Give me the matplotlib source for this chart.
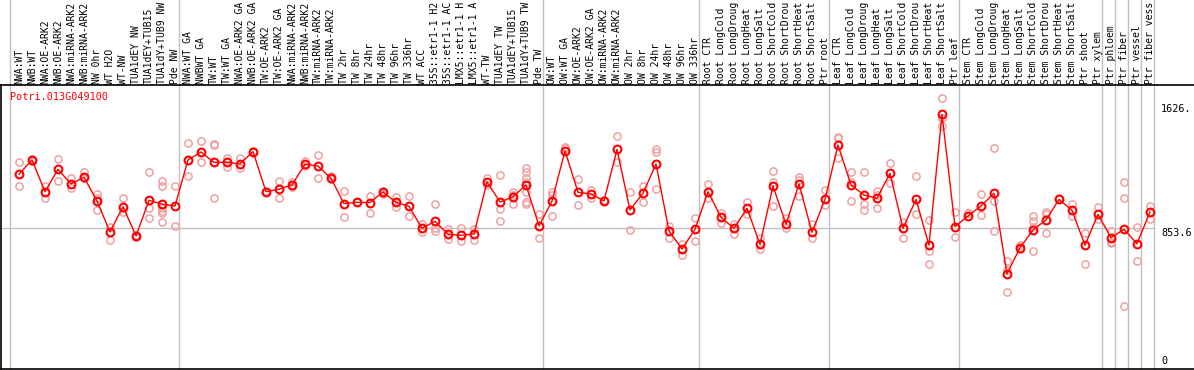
import matplotlib
matplotlib.use('Agg')
import matplotlib.pyplot as plt
import matplotlib.transforms as mtransforms

gene = 'Potri.013G049100'

labels = [
    'NWA:WT', 'NWB:WT', 'NWA:OE-ARK2', 'NWB:OE-ARK2', 'NWA:miRNA-ARK2', 'NWB:miRNA-ARK2',
    'NW 0hr', 'WT H2O', 'WT-NW', 'TUA1dEY NW', 'TUA1dEY+TUB15', 'TUA1dY+TUB9 NW', 'Pde NW',
    'NWA:WT GA', 'NWBWT GA', 'TW:WT', 'TW:WT GA', 'NWA:OE-ARK2 GA', 'NWB:OE-ARK2 GA',
    'TW:OE-ARK2', 'TW:OE-ARK2 GA', 'NWA:miRNA-ARK2', 'NWB:miRNA-ARK2', 'TW:miRNA-ARK2',
    'TW:miRNA-ARK2', 'TW 2hr', 'TW 8hr', 'TW 24hr', 'TW 48hr', 'TW 96hr', 'TW 336hr',
    'WT ACC', '35S::etr1-1 H2', '35S::etr1-1 AC', 'LMX5::etr1-1 H', 'LMX5::etr1-1 A',
    'WT-TW', 'TUA1dEY TW', 'TUA1dEY+TUB15', 'TUA1dY+TUB9 TW', 'Pde TW',
    'OW:WT', 'OW:WT GA', 'OW:OE-ARK2', 'OW:OE-ARK2 GA', 'OW:miRNA-ARK2', 'OW:miRNA-ARK2',
    'OW 2hr', 'OW 8hr', 'OW 24hr', 'OW 48hr', 'OW 96hr', 'OW 336hr',
    'Root CTR', 'Root LongCold', 'Root LongDroug', 'Root LongHeat', 'Root LongSalt',
    'Root ShortCold', 'Root ShortDrou', 'Root ShortHeat', 'Root ShortSalt', 'Ptr root',
    'Leaf CTR', 'Leaf LongCold', 'Leaf LongDroug', 'Leaf LongHeat', 'Leaf LongSalt',
    'Leaf ShortCold', 'Leaf ShortDrou', 'Leaf ShortHeat', 'Leaf ShortSalt', 'Ptr leaf',
    'Stem CTR', 'Stem LongCold', 'Stem LongDroug', 'Stem LongHeat', 'Stem LongSalt',
    'Stem ShortCold', 'Stem ShortDrou', 'Stem ShortHeat', 'Stem ShortSalt', 'Ptr shoot',
    'Ptr xylem', 'Ptr phloem', 'Ptr fiber', 'Ptr vessel', 'Ptr fiber vess',
]

# mean expression per sample
means = [
    1189, 1278, 1081, 1220, 1129, 1170, 1023, 831, 988, 806, 1027, 1004, 992,
    1278, 1327, 1263, 1263, 1253, 1330, 1081, 1096, 1123, 1251, 1240, 1164,
    1007, 1015, 1013, 1079, 1015, 990, 853, 897, 816, 810, 818, 1141, 1017, 1048, 1123, 868,
    1023, 1334, 1077, 1067, 1023, 1344, 967, 1071, 1253, 837, 725, 847,
    1081, 922, 853, 978, 754, 1116, 878, 1129, 829, 1033,
    1371, 1123, 1060, 1040, 1195, 853, 1033, 748, 1561, 864,
    930, 992, 1071, 570, 733, 843, 905, 1033, 965, 748, 940,
    795, 847, 758, 955,
]

# individual replicates per sample
reps = [
    [1263, 1114], [1284, 1272], [1118, 1040], [1284, 1149], [1168, 1106], [1201, 1164],
    [1069, 1044, 965], [864, 781], [1040, 957], [812, 802], [1201, 978, 915],
    [1149, 1116, 978, 961, 946, 891], [1114, 866],
    [1381, 1178], [1396, 1263], [1375, 1371, 1040], [1292, 1236], [1288, 1226], [1336],
    [1085], [1147, 1040], [1139, 1112], [1272, 1240], [1309, 1164], [1180, 1160],
    [1085, 922], [1019], [1054, 949], [1085, 1069], [1050, 984], [1054, 930],
    [878, 833], [1004, 853, 839], [847, 787], [853, 777], [847, 781],
    [1168, 1123], [1185, 971, 899], [1081, 1060, 1002],
    [1226, 1201, 1164, 1139, 1081, 1019, 1007], [940, 791],
    [1081, 1060, 930], [1361, 1354], [1158, 998], [1091, 1040], [1029], [1427, 1267],
    [1081, 843], [1118, 1015], [1344, 1330, 1098], [868, 795], [754, 688], [915, 775],
    [1129, 1040], [951, 889], [878, 816], [1019, 940], [791, 723], [1209, 1143, 994],
    [915, 858], [1174, 1154, 1054], [878, 795], [1091, 998],
    [1423, 1412, 1292], [1205, 1143, 1023], [1205, 1002, 965], [1085, 1060, 978],
    [1257, 1133], [895, 791], [1178, 942], [905, 715, 630], [1661, 1536, 1491], [953, 797],
    [951, 946], [1065, 936], [1350, 1023, 837], [651, 595, 456], [750, 725],
    [930, 899, 864, 715], [957, 940, 826], [1040], [1004, 930], [826, 630], [986, 909],
    [837, 771, 760], [1139, 1040, 371], [860, 651], [992, 909],
]

# first sample index of each block (last value closes the final block)
group_starts = [0, 13, 41, 53, 63, 73, 84, 85, 86, 87, 88]

ref_values = [1626, 853.6, 0]
ref_texts = ['1626.', '853.6', '0']

W, H = 1194, 370
fig = plt.figure(figsize=(W / 100, H / 100), dpi=100)
# frame: x from 1 to 1194 px, y from 85 to 369 px
ax = fig.add_axes([1 / W, 1 / H, (W - 1) / W, 284 / H])
ax.set_xlim((1 - 19) / 13, (W - 19) / 13)
ax.set_ylim(-20.5, 1743.5)
ax.set_xticks([])
ax.set_yticks([])
ax.spines['right'].set_visible(False)
for s in ['left', 'top', 'bottom']:
    ax.spines[s].set_linewidth(1.2)
    ax.spines[s].set_color('black')

mono = 'DejaVu Sans Mono'
fs = 7.0
off = 9 / 13  # separator sits 9 px left of the first point in its block

# block separators run all the way up through the label area
for k in group_starts:
    ax.axvline(k - off, ymin=0, ymax=369 / 284, color='#c0c0c0', lw=1.0,
               clip_on=False, zorder=1)

ax.hlines(853.6, (1 - 19) / 13, group_starts[-1] - off, color='#c0c0c0', lw=1.0, zorder=1)

# replicate points
for i, r in enumerate(reps):
    ax.plot([i] * len(r), r, 'o', ms=5.2, mfc='none', mec='#f0a0a0', mew=1.1, zorder=2)

# mean line
ax.plot(range(len(means)), means, '-o', color='red', lw=1.0, ms=5.6, mfc='none',
        mec='red', mew=1.5, zorder=3)

# sample labels above the frame
trans = mtransforms.blended_transform_factory(ax.transData, ax.transAxes)
for i, lab in enumerate(labels):
    ax.text(i, 1.004, lab, rotation=90, ha='center', va='bottom', family=mono,
            fontsize=fs, transform=trans, clip_on=False)

ax.text(9 / (W - 1), (369 - 97) / 284, gene, color='red', family=mono, fontsize=fs + 0.3,
        ha='left', va='center', transform=ax.transAxes)

tr2 = mtransforms.blended_transform_factory(ax.transAxes, ax.transData)
for v, t in zip(ref_values, ref_texts):
    ax.text((1161 - 1) / (W - 1), v, t, family=mono, fontsize=fs + 0.3, ha='left',
            va='bottom' if v == 0 else 'top', transform=tr2)

fig.savefig('out.png', dpi=100)
